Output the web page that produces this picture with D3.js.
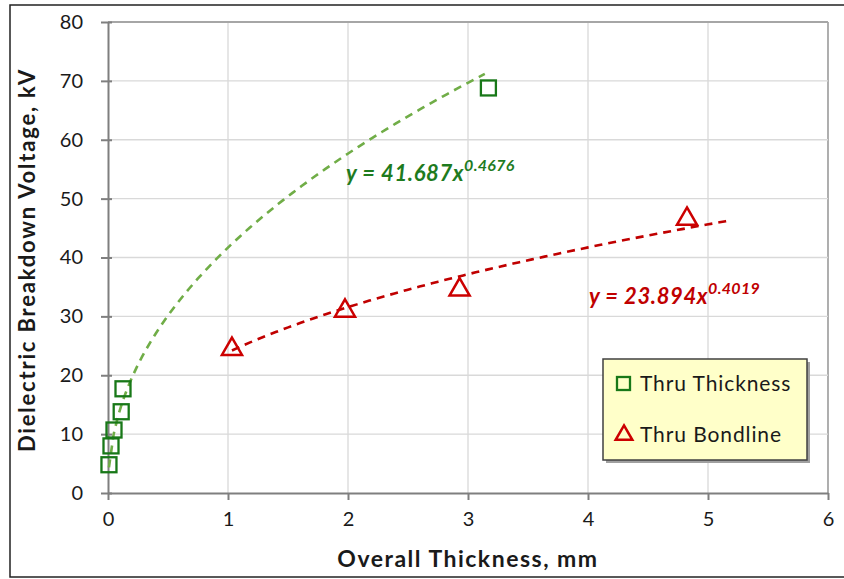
<!DOCTYPE html>
<html><head><meta charset="utf-8">
<script src="https://cdn.jsdelivr.net/npm/d3@7"></script>
<style>body{margin:0;background:#fff}svg{display:block;font-family:Lato,"Open Sans",sans-serif}</style>
</head><body><svg id="c" width="844" height="579"></svg>
<script>
// Data
const thicknessX = [0.008, 0.025, 0.05, 0.11, 0.125, 3.17];
const thicknessY = [4.8, 8.0, 10.7, 13.8, 17.7, 68.8];
const bondlineX = [1.033, 1.975, 2.93, 4.825];
const bondlineY = [24.6, 31.1, 34.7, 46.7];
const fitThick = {a: 41.687, b: 0.4676, from: 0.008, to: 3.14};
const fitBond = {a: 23.894, b: 0.4019, from: 1.033, to: 5.2};
const xTicks = [0, 1, 2, 3, 4, 5, 6];
const yTicks = [0, 10, 20, 30, 40, 50, 60, 70, 80];
const seriesNames = ["Thru Thickness", "Thru Bondline"];

const svg = d3.select("#c");
const m = {l:108, r:828, t:22, b:493};
const x = d3.scaleLinear().domain([0,6]).range([m.l, m.r]);
const y = d3.scaleLinear().domain([0,80]).range([m.b, m.t]);

// outer frame
svg.append("rect").attr("x",10).attr("y",5).attr("width",850).attr("height",572)
  .attr("fill","none").attr("stroke","#222").attr("stroke-width",1.5);

// gridlines
svg.append("g").selectAll("line").data(xTicks.slice(1)).join("line")
  .attr("x1",d=>x(d)).attr("x2",d=>x(d)).attr("y1",m.t).attr("y2",m.b)
  .attr("stroke",d=>d===6?"#a6a6a6":"#d9d9d9").attr("stroke-width",d=>d===6?1.8:1.3);
svg.append("g").selectAll("line").data(yTicks.slice(1)).join("line")
  .attr("x1",m.l).attr("x2",m.r).attr("y1",d=>y(d)).attr("y2",d=>y(d))
  .attr("stroke",d=>d===80?"#a6a6a6":"#d9d9d9").attr("stroke-width",d=>d===80?1.8:1.3);

// axes
const xa = svg.append("g").attr("transform",`translate(0,${m.b})`)
  .call(d3.axisBottom(x).tickValues(xTicks).tickFormat(d3.format("d")).tickSize(7).tickPadding(12).tickSizeOuter(0));
const ya = svg.append("g").attr("transform",`translate(${m.l},0)`)
  .call(d3.axisLeft(y).tickValues(yTicks).tickFormat(d3.format("d")).tickSize(7).tickPadding(8).tickSizeOuter(0));
[xa,ya].forEach(g=>{
  g.select(".domain").attr("stroke","#7f7f7f").attr("stroke-width",2);
  g.selectAll(".tick line").attr("stroke","#7f7f7f").attr("stroke-width",2);
  g.selectAll("text").attr("font-size",20).attr("fill","#1a1a1a").attr("font-family","Lato, sans-serif");
});
ya.selectAll(".tick line").attr("x2",-7).attr("x1",4);
ya.selectAll("text").attr("x",-25);

// trendlines
function fitPts(f){ const n=80, pts=[]; for(let i=0;i<=n;i++){const xv=f.from+(f.to-f.from)*i/n; pts.push([xv,f.a*Math.pow(xv,f.b)]);} return pts; }
const line = d3.line().x(d=>x(d[0])).y(d=>y(d[1]));
svg.append("path").attr("d",line(fitPts(fitThick))).attr("fill","none")
  .attr("stroke","#70ad47").attr("stroke-width",2.6).attr("stroke-dasharray","8,6");
svg.append("path").attr("d",line(fitPts(fitBond))).attr("fill","none")
  .attr("stroke","#c00000").attr("stroke-width",2.6).attr("stroke-dasharray","8,6");

// markers
const green = "#187818", red = "#cc0000";
svg.append("g").selectAll("rect").data(thicknessX.map((d,i)=>[d,thicknessY[i]])).join("rect")
  .attr("x",d=>x(d[0])-7.5).attr("y",d=>y(d[1])-7.5).attr("width",15).attr("height",15)
  .attr("fill","none").attr("stroke",green).attr("stroke-width",2.3);
const tri = d3.symbol().type(d3.symbolTriangle).size(175);
svg.append("g").selectAll("path").data(bondlineX.map((d,i)=>[d,bondlineY[i]])).join("path")
  .attr("d",tri).attr("transform",d=>`translate(${x(d[0])},${y(d[1])+1})`)
  .attr("fill","none").attr("stroke",red).attr("stroke-width",2.5);

// equations
function eq(f, px, py, col){
  const t = svg.append("text").attr("x",px).attr("y",py).attr("fill",col)
    .attr("font-weight","bold").attr("font-style","italic").attr("font-size",22).attr("letter-spacing",0.6);
  t.append("tspan").text(`y = ${f.a.toFixed(3)}x`);
  t.append("tspan").attr("dy",-10).attr("font-size",16).attr("letter-spacing",0.3).text(f.b.toFixed(4));
}
eq(fitThick, 346, 181, "#1e7b1e");
eq(fitBond, 589, 304, "#c00000");

// legend
svg.append("rect").attr("x",606).attr("y",362).attr("width",204).attr("height",101).attr("fill","#a0a0a0");
svg.append("rect").attr("x",603).attr("y",359).attr("width",204).attr("height",101)
  .attr("fill","#ffffc9").attr("stroke","#404040").attr("stroke-width",1.5);
svg.append("rect").attr("x",617).attr("y",377).attr("width",13).attr("height",13)
  .attr("fill","none").attr("stroke",green).attr("stroke-width",2.3);
svg.append("path").attr("d",tri.size(120)()).attr("transform","translate(624,435)")
  .attr("fill","none").attr("stroke",red).attr("stroke-width",2.5);
svg.append("text").attr("x",640).attr("y",391).attr("font-size",21).attr("letter-spacing",0.9).attr("fill","#1a1a1a").text(seriesNames[0]);
svg.append("text").attr("x",640).attr("y",442).attr("font-size",21).attr("letter-spacing",0.9).attr("fill","#1a1a1a").text(seriesNames[1]);

// axis titles
svg.append("text").attr("x",468).attr("y",567).attr("text-anchor","middle")
  .attr("font-size",23).attr("letter-spacing",1.5).attr("font-weight","bold").attr("fill","#1a1a1a").text("Overall Thickness, mm");
svg.append("text").attr("transform","translate(35,260) rotate(-90)").attr("text-anchor","middle")
  .attr("font-size",22).attr("letter-spacing",1.8).attr("font-weight","bold").attr("fill","#1a1a1a").text("Dielectric  Breakdown Voltage, kV");
</script></body></html>
